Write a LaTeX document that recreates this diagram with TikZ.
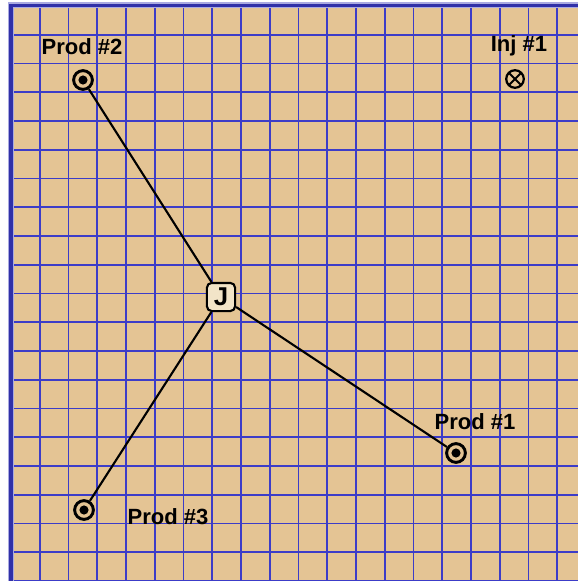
\documentclass[tikz,border=0pt]{standalone}
\usepackage{fontspec}
\setmainfont{Liberation Sans}
\usetikzlibrary{calc}

\definecolor{sand}{RGB}{228,196,148}
\definecolor{gridblue}{RGB}{60,60,200}
\definecolor{edgeblue}{RGB}{48,48,168}
\definecolor{halo}{RGB}{170,170,225}
\definecolor{boxfill}{RGB}{242,228,200}

\begin{document}
\begin{tikzpicture}[
  x=0.03cm,
  y=-0.03cm,
  font=\fontsize{18.8}{22}\selectfont\bfseries,
  gridline/.style={draw=gridblue,line width=1.6pt},
  link/.style={draw=black,line width=1.8pt},
  prodwell/.style={circle,draw=black,line width=2.5pt,minimum size=16pt,inner sep=0pt,
    path picture={\fill[black] (path picture bounding box.center) circle (3.9pt);}},
  injwell/.style={circle,draw=black,line width=1.9pt,minimum size=15pt,inner sep=0pt,
    path picture={\draw[line width=1.7pt]
      (path picture bounding box.north west) -- (path picture bounding box.south east)
      (path picture bounding box.north east) -- (path picture bounding box.south west);}},
  junction/.style={draw=black,line width=1.8pt,rounded corners=4pt,fill=boxfill,
    minimum size=24pt,inner sep=0pt,font=\fontsize{22}{24}\selectfont\bfseries},
  label/.style={inner sep=0pt}
]

% Background and grid
\useasboundingbox (0,0) rectangle (578,581);
\fill[sand] (11,6) rectangle (578,581);
\foreach \k in {1,...,19}
  \draw[gridline] ({11+28.75*\k},6) -- ({11+28.75*\k},581);
\foreach \k in {1,...,20}
  \draw[gridline] (11,{6+28.75*\k}) -- (578,{6+28.75*\k});

% Frame (left and top only)
\draw[halo,line width=5pt] (11,581) -- (11,5) -- (578,5);
\draw[edgeblue,line width=3pt] (11,581) -- (11,5.5) -- (578,5.5);

% Wells
\node[prodwell] (prodtwo) at (83,80) {};
\node[prodwell] (prodone) at (456,453) {};
\node[prodwell] (prodthree) at (84,510) {};
\node[injwell] (injone) at (515,79) {};

% Junction
\node[junction] (j) at (221,297) {J};

% Well labels
\node[label] (lprodtwo) at (82,47) {Prod \#2};
\node[label] (linjone) at (519,46) {Inj \#1};
\node[label] (lprodone) at (475,422) {Prod \#1};
\node[label] (lprodthree) at (168,517) {Prod \#3};

% Links from junction to producers
\draw[link] (prodtwo) -- (j);
\draw[link] (j) -- (prodone);
\draw[link] (j) -- (prodthree);

\end{tikzpicture}
\end{document}
